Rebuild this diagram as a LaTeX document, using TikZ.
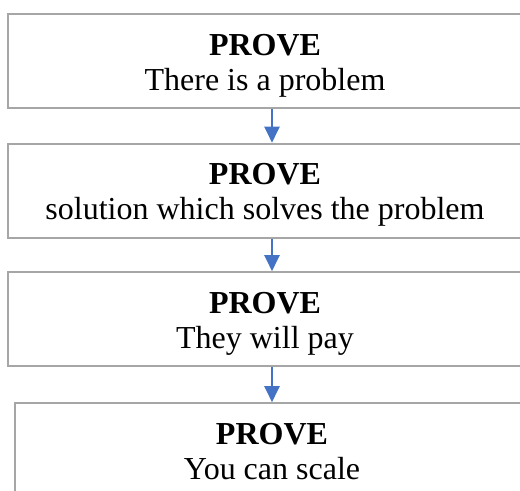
\documentclass[tikz,border=0pt]{standalone}
\usepackage{fontspec}
\setmainfont{Liberation Serif}
\usetikzlibrary{positioning,arrows.meta}

\definecolor{boxgray}{HTML}{A6A6A6}
\definecolor{flowblue}{HTML}{4472C4}
\newcommand{\stagetop}{\rule{0pt}{16.75pt}}

\begin{document}
\begin{tikzpicture}[
    stage/.style={draw=boxgray, line width=1pt, minimum width=257pt, minimum height=47pt,
        inner sep=0pt, align=center, font=\fontsize{16}{17.5}\selectfont},
    flow/.style={-{Triangle[length=8pt, width=7.5pt]}, draw=flowblue, fill=flowblue, line width=1.1pt}
]
    \useasboundingbox (0,0) rectangle (260pt,-245.5pt);

    % Stages
    \node[stage] (problem) at (132.5pt,-30.6pt) {\stagetop\textbf{PROVE}\\There is a problem\strut};
    \node[stage, below=16.75pt of problem] (solution) {\stagetop\textbf{PROVE}\\solution which solves the problem\strut};
    \node[stage, below=16.25pt of solution] (pay) {\stagetop\textbf{PROVE}\\They will pay\strut};
    \node[stage, below=17.5pt of pay, xshift=3.5pt] (scale) {\stagetop\textbf{PROVE}\\You can scale\strut};

    % Flow
    \draw[flow] ([xshift=3.5pt]problem.south) -- ([xshift=3.5pt]solution.north);
    \draw[flow] ([xshift=3.5pt]solution.south) -- ([xshift=3.5pt]pay.north);
    \draw[flow] ([xshift=3.5pt]pay.south) -- (scale.north);

\end{tikzpicture}
\end{document}
